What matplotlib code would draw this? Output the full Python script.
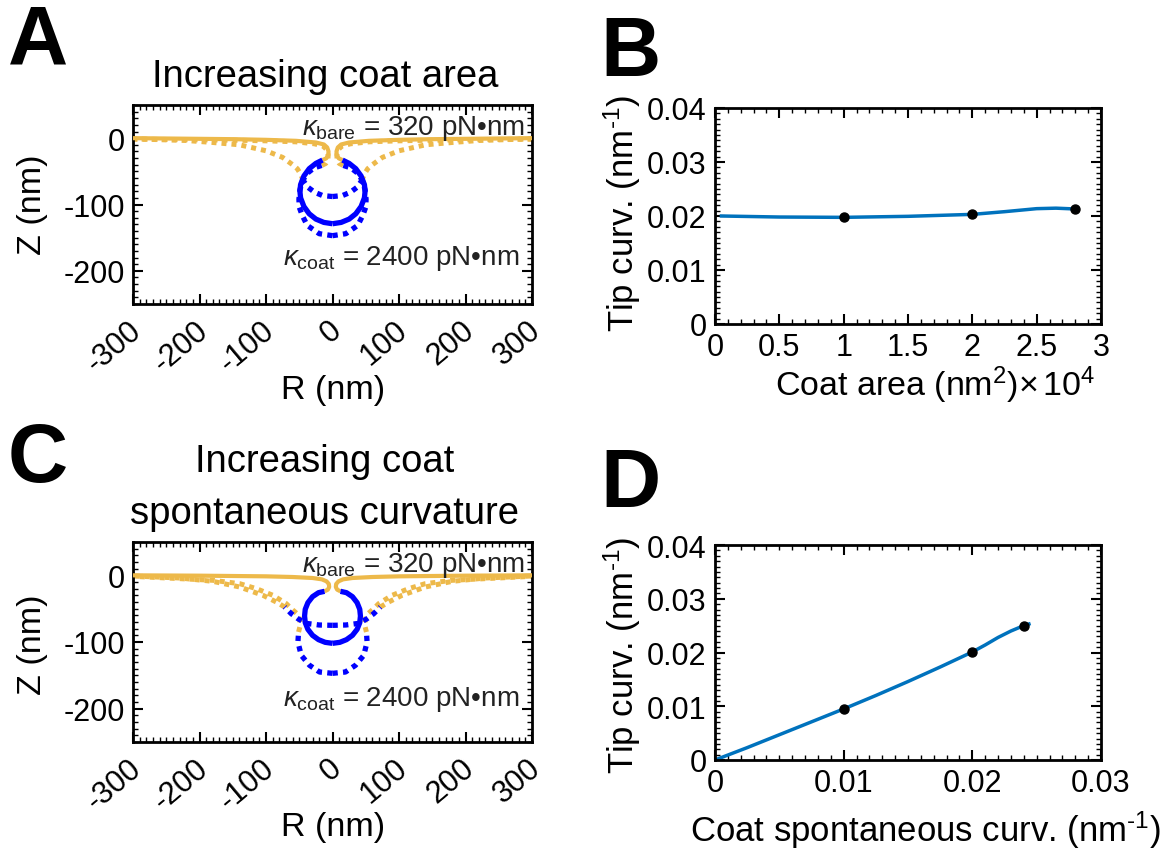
import numpy as np
import matplotlib
matplotlib.use("Agg")
import matplotlib.pyplot as plt
import matplotlib.ticker as ticker
from matplotlib.transforms import ScaledTranslation

plt.rcParams['font.family'] = ['Liberation Sans', 'DejaVu Sans']
plt.rcParams['mathtext.fontset'] = 'custom'
plt.rcParams['mathtext.rm'] = 'Liberation Sans'
plt.rcParams['mathtext.it'] = 'Liberation Sans:italic'
plt.rcParams['axes.unicode_minus'] = False

W, H = 1174, 854

""" membrane half profiles (R >= 0), coat part and bare part, in nm """
# A: increasing coat area, solid = 2e4 nm^2
a_solid_coat_r = [0, 13, 25, 35, 43, 48, 49, 48, 43, 35, 25, 15]
a_solid_coat_z = [-129, -127, -122, -114, -103, -90, -80, -70, -57, -46, -38, -33]
a_solid_bare_r = [15, 9.5, 6.5, 6, 8, 13, 25, 55, 100, 150, 200, 300]
a_solid_bare_z = [-33, -30.5, -26, -20, -14, -9.5, -6.5, -4, -2.5, -1.5, -1, 0]
# A: 1e4 nm^2 (shallow)
a_small_coat_r = [0, 15, 27, 37, 44]
a_small_coat_z = [-88, -86.5, -81.5, -74, -64]
a_small_bare_r = [44, 48, 53, 60, 75, 100, 140, 180, 220, 300]
a_small_bare_z = [-64, -54, -46, -40, -29, -19, -10, -6.5, -3.5, -1]
# A: 2.8e4 nm^2 (deep)
a_big_coat_r = [0, 20, 38, 45.5, 50, 50.5, 49, 45, 38, 28, 16]
a_big_coat_z = [-147, -144, -131.5, -116.5, -104, -92, -78, -64, -53, -45, -41]
a_big_bare_r = [16, 10, 7, 6.5, 9, 14, 27, 55, 100, 150, 200, 300]
a_big_bare_z = [-41, -38, -33, -25, -17, -12, -8.5, -5.5, -4, -3, -2.5, -1.5]

# C: increasing coat spontaneous curvature, solid = 0.024 nm^-1
c_solid_coat_r = [0, 11, 21, 30, 37, 41, 42, 41, 37, 30, 21, 12]
c_solid_coat_z = [-102, -100.5, -96.5, -90, -81, -71, -61, -51, -41, -32, -26, -24]
c_solid_bare_r = [12, 7, 5, 5.5, 9, 16, 30, 60, 100, 150, 200, 300]
c_solid_bare_z = [-24, -21.5, -17.5, -13, -9, -6, -4, -2.5, -1.5, -1, -0.5, 0]
# C: 0.01 nm^-1 (shallow)
c_low_coat_r = [0, 20, 40, 52, 62, 72]
c_low_coat_z = [-75, -74.5, -72, -65, -57.5, -47.5]
c_low_bare_r = [72, 84.5, 104.5, 139.5, 180, 230, 300]
c_low_bare_z = [-47.5, -40, -30, -17.5, -9, -4, -1]
# C: 0.02 nm^-1 (deep)
c_mid_coat_r = [0, 19.5, 34.5, 47, 52, 51]
c_mid_coat_z = [-147, -145, -135, -120, -100, -85]
c_mid_bare_r = [51, 48.5, 49.5, 54, 62, 69.5, 89.5, 114.5, 139.5, 179.5, 229, 300]
c_mid_bare_z = [-85, -75, -65, -57, -50, -42.5, -30, -20, -12.5, -7.5, -5, -1.5]

# B: tip curvature vs coat area (x 1e4 nm^2)
b_area = [0.05, 0.5, 1.0, 1.5, 2.0, 2.25, 2.5, 2.65, 2.8]
b_tip = [0.0200, 0.01981, 0.01975, 0.01994, 0.0203, 0.0208, 0.02136, 0.02145, 0.0213]
b_pts_area = [1, 2, 2.8]
b_pts_tip = [0.01975, 0.0203, 0.0213]

# D: tip curvature vs coat spontaneous curvature
d_c0 = [0, 0.0025, 0.005, 0.0075, 0.01, 0.0125, 0.015, 0.0175, 0.02, 0.021, 0.022, 0.023, 0.024, 0.0244]
d_tip = [0, 0.0023, 0.0047, 0.0071, 0.0095, 0.0120, 0.0146, 0.0173, 0.0201, 0.0214, 0.0228, 0.0240, 0.0250, 0.0253]
d_pts_c0 = [0.01, 0.02, 0.024]
d_pts_tip = [0.0095, 0.0201, 0.0250]

yellow = '#EDB94A'
blue = '#0000FF'
lineblue = '#0072BD'
dots = (0, (1, 1))


def px(x, y):
	return x / W, 1 - y / H


def box(l, t, r, b):
	return [l / W, 1 - b / H, (r - l) / W, (b - t) / H]


def draw_profile(ax, coat_r, coat_z, bare_r, bare_z, solid):
	for sign in (1, -1):
		if solid:
			ax.plot(sign * np.array(bare_r), bare_z, color=yellow, lw=3.0, zorder=4,
					solid_capstyle='butt')
			ax.plot(sign * np.array(coat_r), coat_z, color=blue, lw=3.8, zorder=5,
					solid_capstyle='butt')
		else:
			ax.plot(sign * np.array(bare_r), bare_z, color=yellow, lw=3.6, ls=dots,
					dash_capstyle='butt', zorder=2)
			ax.plot(sign * np.array(coat_r), coat_z, color=blue, lw=3.8, ls=dots,
					dash_capstyle='butt', zorder=3)


def style_axes(ax, xminor, yminor):
	for s in ax.spines.values():
		s.set_linewidth(2)
	ax.tick_params(which='both', direction='in', top=True, right=True, labelsize=22)
	ax.tick_params(which='major', length=7, width=1.5, pad=6)
	ax.tick_params(which='minor', length=3.5, width=1)
	ax.xaxis.set_minor_locator(ticker.MultipleLocator(xminor))
	ax.yaxis.set_minor_locator(ticker.MultipleLocator(yminor))


fig = plt.figure(figsize=(W / 100, H / 100), dpi=100)

# shape panels
shape_panels = [
	(box(133, 106, 532, 305), [(a_small_coat_r, a_small_coat_z, a_small_bare_r, a_small_bare_z),
							   (a_big_coat_r, a_big_coat_z, a_big_bare_r, a_big_bare_z)],
	 (a_solid_coat_r, a_solid_coat_z, a_solid_bare_r, a_solid_bare_z), -189.5),
	(box(133, 543, 532, 743), [(c_low_coat_r, c_low_coat_z, c_low_bare_r, c_low_bare_z),
							   (c_mid_coat_r, c_mid_coat_z, c_mid_bare_r, c_mid_bare_z)],
	 (c_solid_coat_r, c_solid_coat_z, c_solid_bare_r, c_solid_bare_z), -195),
]

shift = ScaledTranslation(5 / 100, 0, fig.dpi_scale_trans)
for rect, dotted, solid, kz in shape_panels:
	ax = fig.add_axes(rect)
	for prof in dotted:
		draw_profile(ax, *prof, solid=False)
	draw_profile(ax, *solid, solid=True)
	ax.set_xlim(-300, 300)
	ax.set_ylim(-250, 50)
	ax.set_xticks(range(-300, 301, 100))
	ax.set_yticks([-200, -100, 0])
	style_axes(ax, 10, 10)
	ax.tick_params(axis='x', pad=16)
	for lab in ax.get_xticklabels():
		lab.set_rotation(40)
		lab.set_ha('right')
		lab.set_va('center')
		lab.set_rotation_mode('anchor')
		lab.set_transform(lab.get_transform() + shift)
	ax.text(289, 6.5, r'$\kappa_{\rm bare}$ = 320 pN•nm', ha='right', va='baseline',
			fontsize=20, color='#222222', zorder=6)
	ax.text(281, kz, r'$\kappa_{\rm coat}$ = 2400 pN•nm', ha='right', va='baseline',
			fontsize=20, color='#222222', zorder=6)

# tip curvature panels
ax_b = fig.add_axes(box(715, 109, 1101, 325))
ax_b.plot(b_area, b_tip, color=lineblue, lw=2.5)
ax_b.plot(b_pts_area, b_pts_tip, 'o', color='black', markersize=6.5)
ax_b.set_xlim(0, 3)
ax_b.set_ylim(0, 0.04)
ax_b.set_xticks(np.arange(0, 3.01, 0.5))
ax_b.set_yticks(np.arange(0, 0.041, 0.01))
style_axes(ax_b, 0.1, 0.001)

ax_d = fig.add_axes(box(715, 546, 1101, 761))
ax_d.plot(d_c0, d_tip, color=lineblue, lw=2.5)
ax_d.plot(d_pts_c0, d_pts_tip, 'o', color='black', markersize=6.5)
ax_d.set_xlim(0, 0.03)
ax_d.set_ylim(0, 0.04)
ax_d.set_xticks(np.arange(0, 0.031, 0.01))
ax_d.set_yticks(np.arange(0, 0.041, 0.01))
style_axes(ax_d, 0.001, 0.001)

for ax in (ax_b, ax_d):
	ax.xaxis.set_major_formatter(ticker.FormatStrFormatter('%g'))
	ax.yaxis.set_major_formatter(ticker.FormatStrFormatter('%g'))

# labels
lab = 24.5
fig.text(*px(33, 205), 'Z (nm)', rotation=90, ha='center', va='center', fontsize=lab)
fig.text(*px(33, 645), 'Z (nm)', rotation=90, ha='center', va='center', fontsize=lab)
fig.text(*px(333, 390), 'R (nm)', ha='center', va='center', fontsize=lab)
fig.text(*px(333, 828), 'R (nm)', ha='center', va='center', fontsize=lab)
fig.text(*px(622, 213), r'Tip curv. (nm$^{\text{-1}}$)', rotation=90, ha='center', va='center', fontsize=25)
fig.text(*px(622, 655), r'Tip curv. (nm$^{\text{-1}}$)', rotation=90, ha='center', va='center', fontsize=25)
fig.text(*px(935, 385), r'Coat area (nm$^2$)$\times\,10^4$', ha='center', va='center', fontsize=lab)
fig.text(*px(690, 830), r'Coat spontaneous curv. (nm$^{\text{-1}}$)', ha='left', va='center', fontsize=25)

# titles
fig.text(*px(325, 77), 'Increasing coat area', ha='center', va='center', fontsize=27.5)
fig.text(*px(325, 462), 'Increasing coat', ha='center', va='center', fontsize=27.5)
fig.text(*px(325, 514), 'spontaneous curvature', ha='center', va='center', fontsize=27.5)

# panel letters
for letter, x, y in [('A', 38, 42), ('B', 630, 54), ('C', 38, 460), ('D', 630, 485)]:
	fig.text(*px(x, y), letter, ha='center', va='center', fontsize=60, fontweight='bold')

plt.savefig('out.png', dpi=100)
